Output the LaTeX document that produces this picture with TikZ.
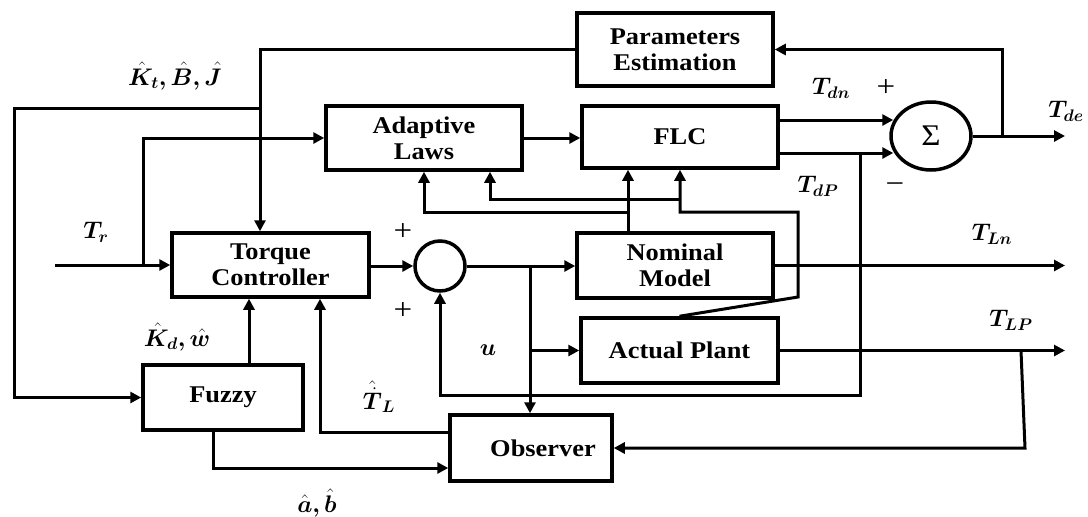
\RequirePackage{fix-cm}
\documentclass[tikz,border=0pt]{standalone}
\usepackage{bm}
\usepackage{fontspec}
\setmainfont{Liberation Serif}[FakeStretch=1.1]
\usetikzlibrary{arrows.meta, shapes.geometric}

\begin{document}
\begin{tikzpicture}[
  x=1pt, y=-1pt,
  box/.style  = {draw, line width=3.5pt, minimum width=196pt, minimum height=64pt,
                 align=center, inner sep=2pt, font=\fontsize{24}{26}\selectfont\bfseries},
  arr/.style  = {-{Triangle[length=11pt,width=11pt]}, line width=3pt},
  lbl/.style  = {font=\fontsize{24}{28}\selectfont},
  sgn/.style  = {font=\fontsize{30}{32}\selectfont},
]
  \useasboundingbox (0,0) rectangle (1088,517);

  \node[box, minimum height=73pt] (pe)  at (675,49.5)  {Parameters\\Estimation};
  \node[box]                      (al)  at (424,138)   {Adaptive\\Laws};
  \node[box, minimum height=62pt] (flc) at (680,137)   {FLC};
  \node[box, minimum width=197pt] (tc)  at (270.5,265) {Torque\\Controller};
  \node[circle, draw, line width=3.5pt, minimum size=50pt] (sum) at (440,266) {};
  \node[box, minimum height=65pt] (nm)  at (675,265.5) {Nominal\\Model};
  \node[box, minimum width=197pt, minimum height=65pt] (ap)  at (679.5,350.5) {Actual Plant};
  \node[box, minimum width=160pt, minimum height=65pt] (fz)  at (223,397.5)   {Fuzzy};
  \node[box, minimum width=162pt, minimum height=66pt] (obs) at (531,448)     {\hspace*{24pt}Observer};
  \node[ellipse, draw, line width=3.5pt, minimum width=80pt, minimum height=68pt,
        inner sep=0pt, sgn] (sig) at (931,136) {Σ};

  \coordinate (kj)   at (260,108);
  \coordinate (kl)   at (14,108);
  \coordinate (tr)   at (55,265);
  \coordinate (trj)  at (143,265);
  \coordinate (tdp)  at (860,153);
  \coordinate (fb)   at (860,395);
  \coordinate (tde)  at (1065,136);
  \coordinate (tdej) at (1002,136);
  \coordinate (uj)   at (530,266);
  \coordinate (tln)  at (1065,265.5);
  \coordinate (tlp)  at (1065,350.5);
  \coordinate (tlpj) at (1021,350.5);
  \coordinate (tlpc) at (1025,448);
  \coordinate (nmj)  at (628,212);
  \coordinate (apk)  at (798,297);
  \coordinate (apt)  at (798,212);
  \coordinate (apj)  at (680,199);

  \draw[arr] (pe.west) -| (kj |- tc.north);
  \draw[arr] (kj) -- (kl) |- (fz.west);
  \draw[arr] (tr) -- (tc.west);
  \draw[arr] (trj) |- (al.west);
  \draw[arr] (al.east) -- (al.east -| flc.west);
  \draw[arr] ([yshift=17pt]flc.east) -- ([yshift=17pt,xshift=4pt]flc.east -| sig.west);
  \draw[arr] ([yshift=-16pt]flc.east) -- ([yshift=-16pt,xshift=4pt]flc.east -| sig.west);
  \draw[arr] (tdp) -- (fb) -| (sum.south);
  \draw[arr] (sig.east) -- (tde);
  \draw[arr] (tdej) |- (pe.east);
  \draw[arr] (tc.east |- sum.west) -- (sum.west);
  \draw[arr] (sum.east) -- (sum.east -| nm.west);
  \draw[arr] (uj) -- (uj |- obs.north);
  \draw[arr] (uj |- ap.west) -- (ap.west);
  \draw[arr] (nm.east) -- (tln);
  \draw[arr] (ap.east) -- (tlp);
  \draw[arr] (tlpj) -- (tlpc) -- (obs.east);
  \draw[arr] ([yshift=16pt]obs.west) -| ([xshift=49.5pt]tc.south);
  \draw[arr] ([xshift=26pt]fz.north) -- ([xshift=26pt]fz.north |- tc.south);
  \draw[arr] ([xshift=-10pt]fz.south) |- ([yshift=-20pt]obs.west);
  \draw[arr] ([xshift=-47pt]nm.north) -- ([xshift=-47pt]nm.north |- flc.south);
  \draw[arr] (nmj) -| (al.south);
  \draw[arr] (ap.north) -- (apk) -- (apt) -| (flc.south);
  \draw[arr] (apj) -| ([xshift=66pt]al.south);

  \node[lbl] (lkbj) at (175,76)   {$\bm{\hat{K}_t, \hat{B}, \hat{J}}$};
  \node[lbl] (ltr)  at (96,232)   {$\bm{T_r}$};
  \node[lbl] (ltdn) at (831,88)   {$\bm{T_{dn}}$};
  \node[sgn] (ptdn) at (886,88)   {+};
  \node[lbl] (ltde) at (1066,111) {$\bm{T_{de}}$};
  \node[lbl] (ltdp) at (818,186)  {$\bm{T_{dP}}$};
  \node[sgn] (mtdp) at (895,188)  {−};
  \node[lbl] (ltln) at (992,234)  {$\bm{T_{Ln}}$};
  \node[lbl] (ltlp) at (1011,320) {$\bm{T_{LP}}$};
  \node[sgn] (pup)  at (403,232)  {+};
  \node[sgn] (pdn)  at (403,311)  {+};
  \node[lbl] (lu)   at (488,350)  {$\bm{u}$};
  \node[lbl] (lkw)  at (177,337)  {$\bm{\hat{K}_d, \hat{w}}$};
  \node[lbl] (ltl)  at (379,397)  {$\bm{\hat{\dot{T}}_L}$};
  \node[lbl] (lab)  at (317,503)  {$\bm{\hat{a}, \hat{b}}$};
\end{tikzpicture}
\end{document}
